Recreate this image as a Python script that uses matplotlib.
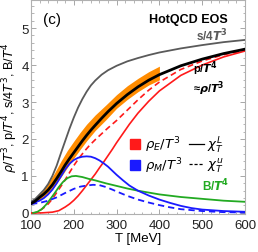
"""HotQCD EOS panel (c): rho/T^3, p/T^4, s/4T^3, B/T^4 vs T."""

import matplotlib

matplotlib.use("Agg")
import matplotlib.pyplot as plt
from matplotlib.lines import Line2D
from matplotlib.ticker import MultipleLocator

plt.rcParams["font.family"] = ["Liberation Sans", "DejaVu Sans"]
plt.rcParams["mathtext.fontset"] = "dejavusans"

# s/4T^3 (gray)
T_s = [100, 110, 120, 130, 140, 150, 160, 170, 180, 190, 200, 210, 220, 230, 240, 250,
       265, 280, 300, 325, 350, 375, 400, 450, 500, 550, 600]
s4 = [0.30, 0.38, 0.50, 0.62, 0.78, 1.00, 1.28, 1.62, 1.95, 2.28, 2.58, 2.85, 3.08, 3.28,
      3.45, 3.58, 3.74, 3.86, 3.98, 4.10, 4.19, 4.27, 4.34, 4.45, 4.54, 4.62, 4.68]

# p/T^4 (black)
T_p = [100, 110, 120, 130, 140, 150, 160, 170, 180, 190, 200, 210, 220, 230, 240, 250,
       265, 280, 300, 325, 350, 375, 400, 450, 500, 550, 600]
p4 = [0.25, 0.32, 0.42, 0.51, 0.62, 0.76, 0.93, 1.11, 1.30, 1.47, 1.63, 1.79, 1.95, 2.10,
      2.24, 2.37, 2.56, 2.74, 2.96, 3.20, 3.41, 3.59, 3.74, 3.98, 4.16, 4.31, 4.43]

# lattice band (orange)
T_band = [115, 125, 140, 155, 170, 185, 200, 215, 230, 250, 275, 300, 325, 350, 375, 400]
band_lo = [0.31, 0.39, 0.52, 0.72, 0.97, 1.23, 1.48, 1.72, 1.95, 2.23, 2.52, 2.83, 3.07,
           3.28, 3.46, 3.60]
band_hi = [0.45, 0.58, 0.80, 1.08, 1.40, 1.69, 1.94, 2.18, 2.40, 2.65, 2.92, 3.20, 3.44,
           3.64, 3.82, 3.97]

# rho_E/T^3 (red): chi^L solid, chi^u dashed
T_eL = [100, 125, 150, 165, 180, 190, 200, 210, 220, 230, 240, 250, 260, 270, 280, 290,
        300, 315, 330, 350, 375, 400, 450, 500, 550, 600]
rhoE_L = [0.0, 0.0, 0.02, 0.06, 0.16, 0.24, 0.34, 0.46, 0.60, 0.75, 0.90, 1.05, 1.22, 1.38,
          1.55, 1.72, 1.90, 2.15, 2.40, 2.70, 3.02, 3.30, 3.72, 4.00, 4.22, 4.38]
T_eu = [100, 110, 120, 130, 140, 150, 160, 170, 180, 190, 200, 212, 225, 237, 250, 265,
        280, 300, 325, 350, 375, 400, 450, 500, 550, 600]
rhoE_u = [0.0, 0.0, 0.06, 0.14, 0.24, 0.38, 0.55, 0.72, 0.90, 1.09, 1.28, 1.48, 1.67, 1.83,
          1.98, 2.14, 2.30, 2.50, 2.78, 3.06, 3.32, 3.54, 3.88, 4.11, 4.28, 4.40]

# rho_M/T^3 (blue): chi^L solid, chi^u dashed
T_mL = [100, 110, 120, 130, 140, 150, 160, 170, 180, 190, 200, 210, 220, 230, 240, 250,
        260, 270, 280, 290, 300, 315, 330, 350, 375, 400, 425, 450, 475, 500, 550, 600]
rhoM_L = [0.27, 0.29, 0.33, 0.40, 0.50, 0.63, 0.80, 0.99, 1.18, 1.33, 1.43, 1.49, 1.52,
          1.53, 1.52, 1.48, 1.42, 1.34, 1.25, 1.14, 1.03, 0.88, 0.74, 0.60, 0.47, 0.36,
          0.27, 0.19, 0.13, 0.09, 0.05, 0.03]
T_mu = [100, 120, 140, 160, 180, 200, 215, 230, 245, 260, 275, 290, 300, 325, 350, 375,
        400, 425, 450, 500, 550, 600]
rhoM_u = [0.24, 0.27, 0.33, 0.42, 0.54, 0.65, 0.71, 0.74, 0.76, 0.75, 0.70, 0.63, 0.58,
          0.46, 0.36, 0.28, 0.21, 0.15, 0.10, 0.05, 0.02, 0.01]

# B/T^4 (green)
T_b = [105, 115, 125, 135, 145, 155, 165, 175, 185, 195, 205, 220, 235, 250, 275, 300,
       325, 350, 400, 450, 500, 550, 600]
B4 = [0.0, 0.03, 0.10, 0.22, 0.37, 0.53, 0.70, 0.84, 0.94, 0.99, 1.00, 0.97, 0.92, 0.88,
      0.80, 0.73, 0.66, 0.60, 0.50, 0.43, 0.38, 0.33, 0.30]

RED = "#ff1a1a"
BLUE = "#1a1aff"
GREEN = "#22aa22"
ORANGE = "#ff8c00"
GRAY = "#5a5a5a"

fig = plt.figure(figsize=(2.58, 2.53), dpi=100)
ax = fig.add_axes([31 / 258, 1 - 215 / 253, 214 / 258, 214 / 253])

ax.fill_between(T_band, band_lo, band_hi, color=ORANGE, lw=0, zorder=2)
ax.plot(T_s, s4, color=GRAY, lw=1.3, zorder=3)
ax.plot(T_p, p4, color="black", lw=2.0, zorder=4)
ax.plot(T_eu, rhoE_u, color=RED, lw=1.2, ls=(0, (3.5, 2.2)), zorder=3)
ax.plot(T_eL, rhoE_L, color=RED, lw=1.2, zorder=3)
ax.plot(T_b, B4, color=GREEN, lw=1.3, zorder=3)
ax.plot(T_mu, rhoM_u, color=BLUE, lw=1.3, ls=(0, (3.5, 2.2)), zorder=3)
ax.plot(T_mL, rhoM_L, color=BLUE, lw=1.3, zorder=3)

ax.set_xlim(100, 600)
ax.set_ylim(-0.03, 5.76)
ax.xaxis.set_major_locator(MultipleLocator(100))
ax.xaxis.set_minor_locator(MultipleLocator(20))
ax.yaxis.set_major_locator(MultipleLocator(1))
ax.yaxis.set_minor_locator(MultipleLocator(0.2))
ax.tick_params(which="both", direction="in", top=True, right=True, color="#999999",
               labelsize=9.5, labelcolor="#222222")
ax.tick_params(axis="x", pad=3.5)
ax.tick_params(axis="y", pad=1.5)
ax.tick_params(which="major", length=3.5, width=0.6)
ax.tick_params(which="minor", length=1.8, width=0.5)
for sp in ax.spines.values():
    sp.set_color("#b0b0b0")
    sp.set_linewidth(0.8)

ax.set_xlabel("T [MeV]", fontsize=9.5, labelpad=1)
ax.set_ylabel(r"$\rho/T^3$, p/$T^4$, s/4$T^3$, B/$T^4$", fontsize=9, labelpad=1)

ax.text(149, 5.24, "(c)", fontsize=11, ha="center", va="center")
ax.text(467, 5.24, "HotQCD EOS", fontsize=9, fontweight="bold", ha="center", va="center")
ax.text(522, 4.80, r"s/4$\boldsymbol{T}^\mathbf{3}$", fontsize=8.5, fontweight="bold",
        color=GRAY, ha="center", va="center")
ax.text(507, 3.93, r"p/$\boldsymbol{T}^\mathbf{4}$", fontsize=8, fontweight="bold",
        ha="center", va="center")
ax.text(516, 3.38, r"≈$\boldsymbol{\rho}$/$\boldsymbol{T}^\mathbf{3}$", fontsize=8,
        fontweight="bold", ha="center", va="center")
ax.text(532, 0.75, r"B/$\boldsymbol{T}^\mathbf{4}$", fontsize=8.5, fontweight="bold",
        color=GREEN, ha="center", va="center")

handles = [
    Line2D([], [], ls="none", marker="s", ms=6.5, color=RED),
    Line2D([], [], ls="none", marker="s", ms=6.5, color=BLUE),
    Line2D([], [], color="black", lw=0.9),
    Line2D([], [], color="black", lw=0.9, ls=(0, (2.5, 1.5))),
]
labels = [r"$\rho_E/T^3$", r"$\rho_M/T^3$", r"$\chi_T^L$", r"$\chi_T^u$"]
ax.legend(handles, labels, ncol=2, loc="upper left", bbox_to_anchor=(0.45, 0.37),
          frameon=False, fontsize=9.5, handlelength=1.1, handletextpad=0.25,
          columnspacing=0.5, labelspacing=0.1, borderpad=0, borderaxespad=0)

fig.savefig("out.png", dpi=100)
